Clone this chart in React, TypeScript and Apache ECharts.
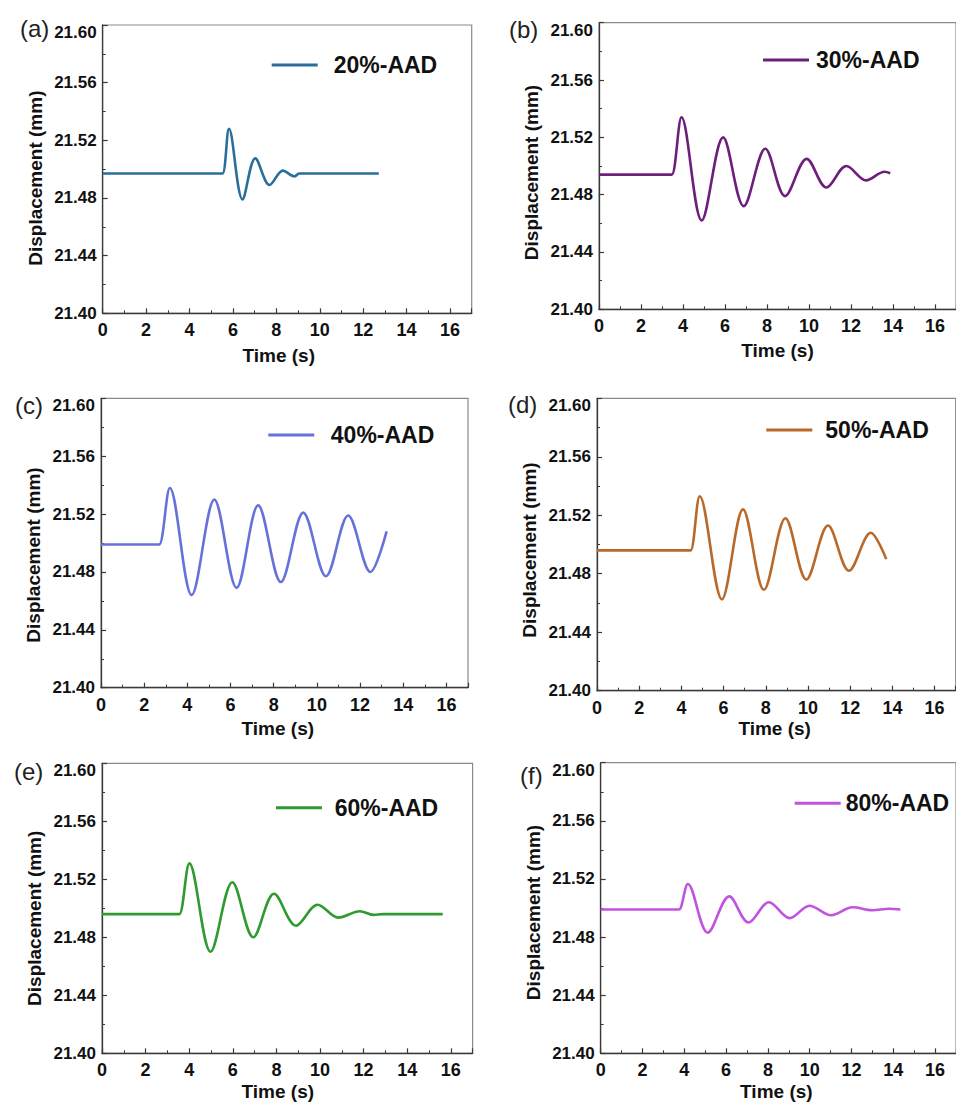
import React, { useEffect, useRef } from "react";
import * as echarts from "echarts";

// Free-vibration displacement records, one panel per AAD ratio.
// Each record: flat rest level, release, then the successive peaks and troughs.
// Time in seconds, displacement in millimetres.
const time20 = [0, 5.3, 5.52, 5.82, 6.44, 7.03, 7.69, 8.3, 8.84, 9.05, 12.72];
const disp20 = [21.497, 21.497, 21.497, 21.528, 21.479, 21.5075, 21.489, 21.499, 21.495, 21.497, 21.497];

const time30 = [0, 3.3, 3.47, 3.93, 4.89, 5.91, 6.89, 7.92, 8.86, 9.89, 10.83, 11.78, 12.72, 13.6, 13.87];
const disp30 = [21.494, 21.494, 21.494, 21.534, 21.462, 21.52, 21.472, 21.512, 21.479, 21.505, 21.485, 21.5, 21.49, 21.496, 21.495];

const time40 = [0, 2.55, 2.7, 3.19, 4.2, 5.25, 6.28, 7.28, 8.33, 9.37, 10.42, 11.45, 12.48, 13.23];
const disp40 = [21.499, 21.499, 21.499, 21.538, 21.464, 21.53, 21.469, 21.526, 21.473, 21.521, 21.477, 21.519, 21.48, 21.508];

const time50 = [0, 4.3, 4.44, 4.87, 5.92, 6.92, 7.91, 8.93, 9.92, 10.95, 11.94, 12.97, 13.71];
const disp50 = [21.496, 21.496, 21.496, 21.533, 21.4625, 21.524, 21.469, 21.518, 21.476, 21.513, 21.482, 21.508, 21.49];

const time60 = [0, 3.4, 3.55, 4.01, 4.98, 5.98, 6.94, 7.89, 8.9, 9.89, 10.84, 11.83, 12.45, 12.9, 15.63];
const disp60 = [21.496, 21.496, 21.496, 21.531, 21.47, 21.518, 21.48, 21.51, 21.488, 21.5025, 21.4936, 21.498, 21.4955, 21.496, 21.496];

const time80 = [0, 3.6, 3.75, 4.17, 5.12, 6.15, 7.07, 8.05, 9.04, 9.99, 11.02, 12.05, 13.0, 13.8, 14.34];
const disp80 = [21.499, 21.499, 21.499, 21.5165, 21.483, 21.508, 21.49, 21.504, 21.493, 21.5016, 21.495, 21.5005, 21.4985, 21.4995, 21.499];

const seriesNames = ["20%-AAD", "30%-AAD", "40%-AAD", "50%-AAD", "60%-AAD", "80%-AAD"];
const panelLetters = ["(a)", "(b)", "(c)", "(d)", "(e)", "(f)"];
const seriesTimes = [time20, time30, time40, time50, time60, time80];
const seriesDisps = [disp20, disp30, disp40, disp50, disp60, disp80];

const xTicks = { min: 0, max: 17, interval: 2 };
const yTicks = { min: 21.4, max: 21.6, interval: 0.04 };

const colors = ["#2a6f9c", "#6e1f7c", "#6672da", "#b8692a", "#2f9a2f", "#c252e0"];

// Panel placement on the page
const layout = [
  { left: 102.7, top: 25, width: 369, height: 288.3, lgX: 271.7, lgY: 65, lgGap: 16, tag: [20, 28], yShift: 9, xShift: 8.5, xGap: 33 },
  { left: 599, top: 22.7, width: 359.4, height: 286.6, lgX: 763, lgY: 60, lgGap: 7, tag: [509, 29.5], yShift: 6.5, xShift: 0, xGap: 32 },
  { left: 101, top: 398.3, width: 367, height: 289.4, lgX: 268.3, lgY: 435, lgGap: 16.5, tag: [15, 405], yShift: 12, xShift: 6.7, xGap: 31 },
  { left: 597, top: 398.3, width: 358.7, height: 292.4, lgX: 766.3, lgY: 430, lgGap: 13, tag: [508, 404.7], yShift: 5.5, xShift: 1.7, xGap: 28 },
  { left: 102, top: 763.3, width: 370.6, height: 290, lgX: 276, lgY: 807.7, lgGap: 12.7, tag: [14, 771], yShift: 10, xShift: 9.5, xGap: 29 },
  { left: 600.7, top: 762.7, width: 358.4, height: 290.6, lgX: 794.7, lgY: 803.3, lgGap: 3.5, tag: [520, 775], yShift: 4.5, xShift: 2, xGap: 29 },
];

const FONT = "'Liberation Sans', Arial, Helvetica, sans-serif";
const AXIS_COLOR = "#3a3a3a";
const TEXT_COLOR = "#111";

function buildOption(): echarts.EChartsOption {
  const grid: any[] = [];
  const xAxis: any[] = [];
  const yAxis: any[] = [];
  const series: any[] = [];
  const legend: any[] = [];
  const graphic: any[] = [];

  const labelFont = { fontFamily: FONT, fontWeight: "bold", color: TEXT_COLOR };

  layout.forEach((p, i) => {
    grid.push({
      left: p.left,
      top: p.top,
      width: p.width,
      height: p.height,
      show: true,
      borderColor: "#8a8a8a",
      borderWidth: 1.2,
      backgroundColor: "transparent",
    });

    xAxis.push({
      type: "value",
      gridIndex: i,
      min: xTicks.min,
      max: xTicks.max,
      interval: xTicks.interval,
      name: "Time (s)",
      nameLocation: "middle",
      nameGap: p.xGap,
      nameTextStyle: {
        ...labelFont,
        fontSize: 19,
        padding: [0, p.xShift * 2, 0, 0],
      },
      axisLine: { show: true, onZero: false, lineStyle: { color: AXIS_COLOR, width: 1.3 } },
      axisTick: { show: true, inside: true, length: 5, lineStyle: { color: AXIS_COLOR, width: 1.2 } },
      minorTick: { show: true, splitNumber: 2, length: 3, lineStyle: { color: AXIS_COLOR, width: 1 } },
      splitLine: { show: false },
      minorSplitLine: { show: false },
      axisLabel: {
        ...labelFont,
        showMaxLabel: false,
        fontSize: 18,
        margin: 8,
      },
    });

    yAxis.push({
      type: "value",
      gridIndex: i,
      min: yTicks.min,
      max: yTicks.max,
      interval: yTicks.interval,
      name: "Displacement (mm)",
      nameLocation: "middle",
      nameGap: 58,
      nameTextStyle: {
        ...labelFont,
        fontSize: 19,
        padding: [0, p.yShift * 2, 0, 0],
      },
      axisLine: { show: true, onZero: false, lineStyle: { color: AXIS_COLOR, width: 1.3 } },
      axisTick: { show: true, inside: true, length: 5, lineStyle: { color: AXIS_COLOR, width: 1.2 } },
      minorTick: { show: true, splitNumber: 2, length: 3, lineStyle: { color: AXIS_COLOR, width: 1 } },
      splitLine: { show: false },
      minorSplitLine: { show: false },
      axisLabel: {
        ...labelFont,
        fontSize: 17,
        margin: 6,
        // the top label sits a little below the frame corner
        formatter: (v: number) => (v >= yTicks.max - 1e-9 ? `{top|${v.toFixed(2)}}` : v.toFixed(2)),
        rich: {
          top: { ...labelFont, fontSize: 17, padding: [15, 0, 0, 0] },
        },
      },
    });

    const t = seriesTimes[i];
    const d = seriesDisps[i];
    series.push({
      type: "line",
      name: seriesNames[i],
      xAxisIndex: i,
      yAxisIndex: i,
      data: t.map((x, k) => [x, d[k]]),
      symbol: "none",
      showSymbol: false,
      // a third of the spacing between extremes gives a near-sinusoidal swing
      smooth: 0.34,
      lineStyle: { width: 2.6, color: colors[i] },
      itemStyle: { color: colors[i] },
    });

    legend.push({
      data: [seriesNames[i]],
      left: p.lgX,
      top: p.lgY - 11.5,
      padding: 0,
      icon: "rect",
      itemWidth: 46,
      itemHeight: 3,
      selectedMode: false,
      textStyle: {
        ...labelFont,
        fontSize: 23,
        padding: [0, 0, 0, Math.max(0, p.lgGap - 5)],
      },
    });

    graphic.push({
      type: "text",
      left: p.tag[0],
      top: p.tag[1] - 12,
      style: {
        text: panelLetters[i],
        fontFamily: FONT,
        fontSize: 24,
        fill: "#222",
      },
    });
  });

  return {
    animation: false,
    backgroundColor: "#ffffff",
    grid,
    xAxis,
    yAxis,
    series,
    legend,
    graphic,
  };
}

export default function App() {
  const ref = useRef<HTMLDivElement>(null);

  useEffect(() => {
    if (!ref.current) return;
    const chart = echarts.init(ref.current, undefined, { renderer: "svg" });
    chart.setOption(buildOption());
    return () => {
      chart.dispose();
    };
  }, []);

  return (
    <div
      ref={ref}
      style={{ position: "absolute", left: 0, top: 0, width: 956, height: 1104 }}
    />
  );
}
